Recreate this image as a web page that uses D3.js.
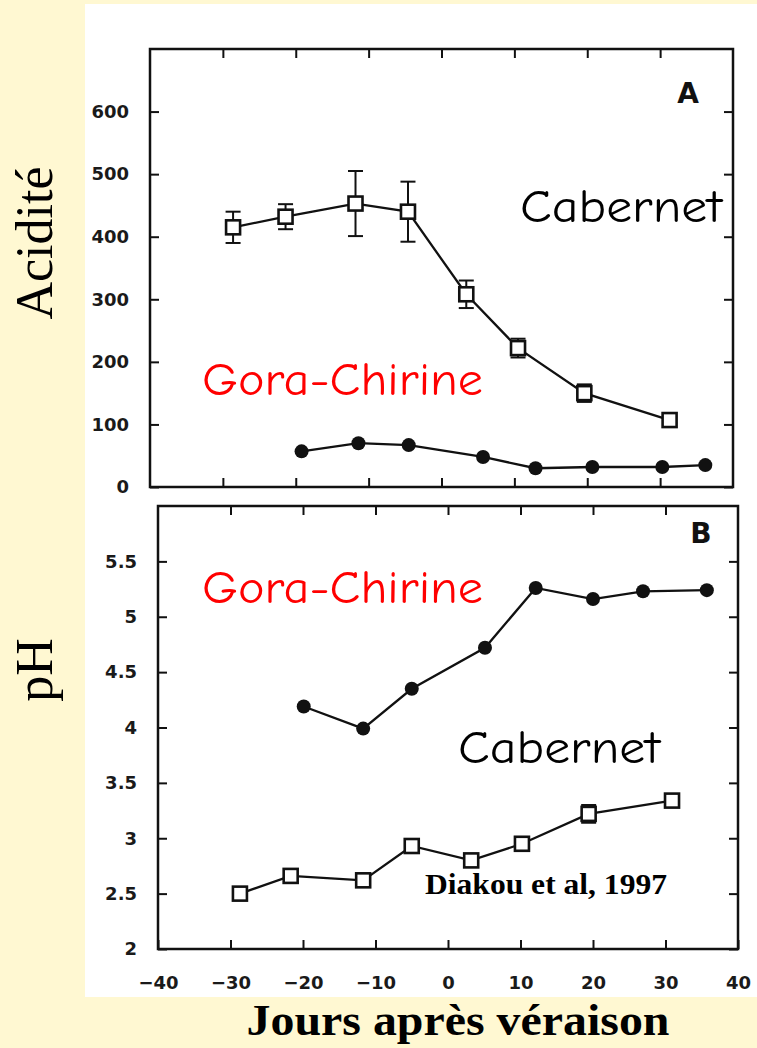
<!DOCTYPE html>
<html><head><meta charset="utf-8">
<script src="https://cdn.jsdelivr.net/npm/d3@7"></script>
<style>html,body{margin:0;padding:0;background:#FFF8D2;}svg{display:block;}</style>
</head><body>
<script>
// ---- data ----
const xTicks = [-40, -30, -20, -10, 0, 10, 20, 30, 40];
const acidTicks = [0, 100, 200, 300, 400, 500, 600];
const phTicks = [2, 2.5, 3, 3.5, 4, 4.5, 5, 5.5];

const acidCabDays = [-28.6, -21.4, -11.8, -4.6, 3.4, 10.5, 19.6, 31.3];
const acidCab     = [415, 432, 453, 440, 308, 222, 150, 107];
const acidCabErr  = [25, 20, 52, 48, 22, 15, 14, 5];

const acidGoraDays = [-19.2, -11.4, -4.5, 5.7, 12.9, 20.7, 30.3, 36.2];
const acidGora     = [57, 70, 67, 48, 30, 32, 32, 35];

const phGoraDays = [-19.9, -11.7, -5.0, 5.1, 12.1, 20.0, 26.9, 35.7];
const phGora     = [4.19, 3.99, 4.35, 4.72, 5.26, 5.16, 5.23, 5.24];

const phCabDays = [-28.7, -21.7, -11.7, -5.0, 3.2, 10.2, 19.4, 30.9];
const phCab     = [2.50, 2.66, 2.62, 2.93, 2.80, 2.95, 3.22, 3.34];
const phCabErr  = [0, 0, 0, 0.03, 0.03, 0, 0.08, 0.03];

const W = 757, H = 1048;
const svg = d3.select("body").append("svg").attr("width", W).attr("height", H);
svg.append("rect").attr("width", W).attr("height", H).attr("fill", "#FFF8D2");
svg.append("rect").attr("x", 85).attr("y", 4).attr("width", W - 85).attr("height", 993).attr("fill", "#fff");

const tickFont = "'DejaVu Sans', sans-serif";
const comic = "'Comic Sans MS','Comic Neue','Noto Sans',sans-serif";

function panel(cfg) {
  const x = d3.scaleLinear().domain([-40, 40]).range(cfg.xr);
  const y = d3.scaleLinear().domain(cfg.yd).range(cfg.yr);
  const g = svg.append("g");
  const tl = 9;
  const left = g.append("g").attr("transform", `translate(${cfg.xr[0]},0)`)
    .call(d3.axisLeft(y).tickValues(cfg.yTicks).tickSize(-tl).tickPadding(21).tickFormat(cfg.fmt));
  const right = g.append("g").attr("transform", `translate(${cfg.xr[1]},0)`)
    .call(d3.axisRight(y).tickValues(cfg.yTicks).tickSize(-tl).tickFormat(""));
  const top = g.append("g").attr("transform", `translate(0,${cfg.yr[1]})`)
    .call(d3.axisTop(x).tickValues(xTicks.slice(1, -1)).tickSize(-tl).tickFormat(""));
  const bot = g.append("g").attr("transform", `translate(0,${cfg.yr[0]})`)
    .call(d3.axisBottom(x).tickValues(cfg.showX ? xTicks : xTicks.slice(1, -1)).tickSize(-tl).tickPadding(27)
      .tickFormat(cfg.showX ? d3.format("d") : ""));
  [left, right, top, bot].forEach(a => {
    a.select(".domain").remove();
    a.selectAll("line").attr("stroke", "#111").attr("stroke-width", 2);
    a.selectAll("text").attr("font-family", tickFont).attr("font-weight", "bold")
      .attr("font-size", 18).attr("fill", "#1a1a1a");
  });
  g.append("rect").attr("x", cfg.xr[0]).attr("y", cfg.yr[1])
    .attr("width", cfg.xr[1] - cfg.xr[0]).attr("height", cfg.yr[0] - cfg.yr[1])
    .attr("fill", "none").attr("stroke", "#111").attr("stroke-width", 2.5);
  return { g, x, y };
}

function series(p, days, vals, errs, kind) {
  const data = days.map((d, i) => ({ d, v: vals[i], e: errs ? errs[i] : 0 }));
  const line = d3.line().x(o => p.x(o.d)).y(o => p.y(o.v));
  p.g.append("path").datum(data).attr("d", line).attr("fill", "none")
    .attr("stroke", "#111").attr("stroke-width", 2.3);
  const eb = p.g.append("g").attr("stroke", "#111").attr("stroke-width", 2);
  data.filter(o => o.e > 0).forEach(o => {
    const cx = p.x(o.d), y1 = p.y(o.v + o.e), y2 = p.y(o.v - o.e);
    eb.append("line").attr("x1", cx).attr("x2", cx).attr("y1", y1).attr("y2", y2);
    eb.append("line").attr("x1", cx - 7.5).attr("x2", cx + 7.5).attr("y1", y1).attr("y2", y1);
    eb.append("line").attr("x1", cx - 7.5).attr("x2", cx + 7.5).attr("y1", y2).attr("y2", y2);
  });
  if (kind === "open") {
    p.g.selectAll(null).data(data).enter().append("rect")
      .attr("x", o => p.x(o.d) - 7).attr("y", o => p.y(o.v) - 7)
      .attr("width", 14).attr("height", 14)
      .attr("fill", "#fff").attr("stroke", "#111").attr("stroke-width", 2.6);
  } else {
    p.g.selectAll(null).data(data).enter().append("circle")
      .attr("cx", o => p.x(o.d)).attr("cy", o => p.y(o.v)).attr("r", 7)
      .attr("fill", "#111");
  }
}

const pA = panel({ xr: [150, 733], yr: [487, 49], yd: [0, 700], yTicks: acidTicks, fmt: d3.format("d"), showX: false });
series(pA, acidGoraDays, acidGora, null, "filled");
series(pA, acidCabDays, acidCab, acidCabErr, "open");

const pB = panel({ xr: [158, 738], yr: [949, 506], yd: [2, 6], yTicks: phTicks, fmt: d => (d % 1 === 0 ? d3.format("d")(d) : d3.format(".1f")(d)), showX: true });
series(pB, phGoraDays, phGora, null, "filled");
series(pB, phCabDays, phCab, phCabErr, "open");

function txt(s, x, y, o) {
  const t = svg.append("text").attr("x", x).attr("y", y).text(s)
    .attr("font-family", o.font).attr("font-size", o.size).attr("fill", o.fill || "#000")
    .attr("font-weight", o.weight || "normal").attr("text-anchor", o.anchor || "start");
  if (o.len) t.attr("textLength", o.len).attr("lengthAdjust", "spacingAndGlyphs");
  if (o.rot) t.attr("transform", `rotate(${o.rot},${x},${y})`);
  return t;
}

txt("A", 688, 103, { font: tickFont, size: 28, weight: "bold", anchor: "middle", fill: "#111" });
txt("B", 701, 543, { font: tickFont, size: 28, weight: "bold", anchor: "middle", fill: "#111" });

txt("Cabernet", 520, 222, { font: comic, size: 46, len: 202 });
txt("Gora-Chirine", 202, 395, { font: comic, size: 46, len: 281, fill: "#FF0000" });
txt("Gora-Chirine", 202, 603, { font: comic, size: 46, len: 281, fill: "#FF0000" });
txt("Cabernet", 458, 763, { font: comic, size: 46, len: 202 });
txt("Diakou et al, 1997", 425, 894, { font: "'Liberation Serif','Times New Roman',serif", size: 30, weight: "bold", len: 242 });

txt("Acidité", 52, 243, { font: "'Liberation Serif','Times New Roman',serif", size: 52, anchor: "middle", rot: -90 });
txt("pH", 52, 670, { font: "'Liberation Serif','Times New Roman',serif", size: 52, anchor: "middle", rot: -90 });
txt("Jours après véraison", 458, 1035, { font: "'Liberation Serif','Times New Roman',serif", size: 44, weight: "bold", anchor: "middle", len: 423 });
</script>
</body></html>
